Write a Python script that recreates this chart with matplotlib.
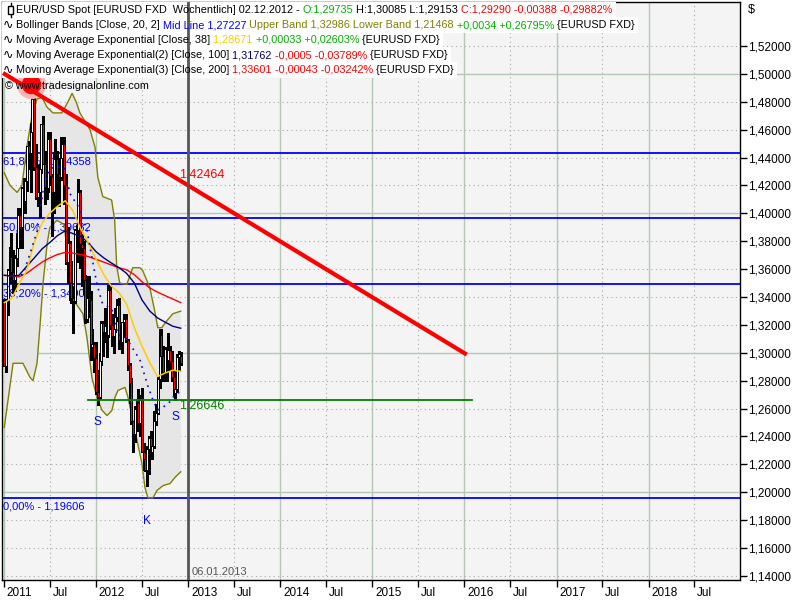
import matplotlib
matplotlib.use("Agg")
import matplotlib.pyplot as plt
import matplotlib.dates as mdates
import matplotlib.transforms as mtrans
from matplotlib.patches import Rectangle
from matplotlib.lines import Line2D
import numpy as np
import pandas as pd

plt.rcParams['font.family'] = ['Liberation Sans', 'DejaVu Sans']

# weekly EUR/USD candles (week dates as the chart shows them)
weeks = pd.date_range("2011-01-02", "2012-12-02", freq="7D")
opens = [1.3365, 1.2907, 1.3380, 1.3595, 1.3690, 1.3580, 1.3520, 1.3680, 1.3750, 1.3985,
         1.3905, 1.4180, 1.4090, 1.4230, 1.4480, 1.4430, 1.4580, 1.4820, 1.4330, 1.4120,
         1.4150, 1.4320, 1.4640, 1.4350, 1.4190, 1.4180, 1.4530, 1.4270, 1.4150, 1.4390,
         1.4390, 1.4280, 1.4260, 1.4400, 1.4500, 1.4200, 1.3650, 1.3790, 1.3500, 1.3390,
         1.3370, 1.3880, 1.3880, 1.4150, 1.3780, 1.3750, 1.3520, 1.3240, 1.3390, 1.3380,
         1.3040, 1.3060,
         1.2960, 1.2720, 1.2680, 1.2940, 1.3210, 1.3150, 1.3190, 1.3130, 1.3450, 1.3200,
         1.3120, 1.3170, 1.3260, 1.3340, 1.3090, 1.3080, 1.3220, 1.3240, 1.3090, 1.2910,
         1.2780, 1.2510, 1.2420, 1.2600, 1.2640, 1.2500, 1.2660, 1.2290, 1.2240, 1.2160,
         1.2310, 1.2390, 1.2290, 1.2330, 1.2510, 1.2570, 1.2810, 1.3130, 1.2980, 1.2860,
         1.3030, 1.2950, 1.3020, 1.2940, 1.2830, 1.2710, 1.2740, 1.2970, 1.29735]
highs = [1.3387, 1.3387, 1.3603, 1.3760, 1.3862, 1.3735, 1.3700, 1.3860, 1.4035, 1.4035,
         1.4190, 1.4250, 1.4250, 1.4485, 1.4520, 1.4650, 1.4880, 1.4940, 1.4500, 1.4345,
         1.4350, 1.4640, 1.4700, 1.4450, 1.4450, 1.4580, 1.4580, 1.4280, 1.4440, 1.4530,
         1.4450, 1.4400, 1.4550, 1.4550, 1.4550, 1.4280, 1.3900, 1.3800, 1.3660, 1.3480,
         1.3890, 1.3915, 1.4245, 1.4170, 1.3850, 1.3800, 1.3560, 1.3550, 1.3550, 1.3440,
         1.3170, 1.3080,
         1.3080, 1.2880, 1.3000, 1.3230, 1.3230, 1.3320, 1.3250, 1.3486, 1.3480, 1.3280,
         1.3180, 1.3320, 1.3385, 1.3390, 1.3210, 1.3220, 1.3280, 1.3280, 1.3100, 1.2930,
         1.2820, 1.2510, 1.2620, 1.2670, 1.2740, 1.2700, 1.2750, 1.2350, 1.2330, 1.2330,
         1.2400, 1.2440, 1.2390, 1.2580, 1.2630, 1.2830, 1.3170, 1.3170, 1.3050, 1.3040,
         1.3040, 1.3140, 1.3050, 1.3010, 1.2880, 1.2810, 1.2990, 1.3010, 1.30085]
lows = [1.2903, 1.2860, 1.3270, 1.3575, 1.3500, 1.3430, 1.3440, 1.3620, 1.3750, 1.3750,
        1.3750, 1.4050, 1.4000, 1.4160, 1.4320, 1.4155, 1.4550, 1.4310, 1.4100, 1.4050,
        1.3970, 1.4290, 1.4350, 1.4070, 1.4100, 1.4150, 1.4200, 1.3837, 1.4000, 1.4260,
        1.4050, 1.4050, 1.4240, 1.4350, 1.4070, 1.3640, 1.3500, 1.3380, 1.3360, 1.3145,
        1.3360, 1.3650, 1.3830, 1.3610, 1.3480, 1.3420, 1.3210, 1.3220, 1.3260, 1.2950,
        1.2990, 1.2860,
        1.2705, 1.2625, 1.2670, 1.2910, 1.2980, 1.3080, 1.2970, 1.3110, 1.3170, 1.3050,
        1.3000, 1.3150, 1.3230, 1.3030, 1.3030, 1.3000, 1.3110, 1.3080, 1.2880, 1.2640,
        1.2490, 1.2290, 1.2360, 1.2440, 1.2450, 1.2400, 1.2290, 1.2160, 1.2150, 1.2042,
        1.2130, 1.2240, 1.2240, 1.2320, 1.2480, 1.2560, 1.2750, 1.2930, 1.2800, 1.2800,
        1.2800, 1.2930, 1.2880, 1.2800, 1.2700, 1.2660, 1.2720, 1.2880, 1.29153]
closes = [1.2907, 1.3380, 1.3595, 1.3690, 1.3580, 1.3520, 1.3680, 1.3750, 1.3985, 1.3905,
          1.4180, 1.4090, 1.4230, 1.4480, 1.4430, 1.4580, 1.4820, 1.4330, 1.4120, 1.4150,
          1.4320, 1.4640, 1.4350, 1.4190, 1.4180, 1.4530, 1.4270, 1.4150, 1.4390, 1.4390,
          1.4280, 1.4260, 1.4400, 1.4500, 1.4200, 1.3650, 1.3790, 1.3500, 1.3390, 1.3370,
          1.3880, 1.3880, 1.4150, 1.3780, 1.3750, 1.3520, 1.3240, 1.3390, 1.3380, 1.3040,
          1.3060, 1.2960,
          1.2720, 1.2680, 1.2940, 1.3210, 1.3150, 1.3190, 1.3130, 1.3450, 1.3200, 1.3120,
          1.3170, 1.3260, 1.3340, 1.3090, 1.3080, 1.3220, 1.3240, 1.3090, 1.2910, 1.2780,
          1.2510, 1.2420, 1.2600, 1.2640, 1.2500, 1.2660, 1.2290, 1.2240, 1.2160, 1.2310,
          1.2390, 1.2290, 1.2330, 1.2510, 1.2570, 1.2810, 1.3130, 1.2980, 1.2860, 1.3030,
          1.2950, 1.3020, 1.2940, 1.2830, 1.2710, 1.2740, 1.2970, 1.2990, 1.29290]

# moving averages
ema_dates = ["2011-01-02", "2011-02-01", "2011-03-01", "2011-04-01", "2011-05-01", "2011-06-01",
             "2011-07-01", "2011-08-01", "2011-09-01", "2011-10-01", "2011-11-01", "2011-12-01",
             "2012-01-01", "2012-02-01", "2012-03-01", "2012-04-01", "2012-05-01", "2012-06-01",
             "2012-07-01", "2012-08-01", "2012-09-01", "2012-10-01", "2012-11-01", "2012-12-02"]
ema38 = [1.336, 1.339, 1.349, 1.359, 1.379, 1.393, 1.400, 1.405, 1.409, 1.402, 1.389, 1.379,
         1.367, 1.356, 1.348, 1.343, 1.335, 1.318, 1.305, 1.293, 1.283, 1.2855, 1.2875, 1.28671]
ema100 = [1.3556, 1.3550, 1.3555, 1.3620, 1.3680, 1.3745, 1.3790, 1.3840, 1.3875, 1.3855, 1.3835, 1.3790,
          1.3725, 1.3680, 1.3645, 1.3610, 1.3570, 1.3500, 1.3380, 1.3300, 1.3250, 1.3220, 1.3190, 1.31762]
ema200 = [1.3555, 1.3550, 1.3545, 1.3570, 1.3610, 1.3650, 1.3680, 1.3705, 1.3720, 1.3715, 1.3705, 1.3690,
          1.3670, 1.3650, 1.3630, 1.3610, 1.3595, 1.3560, 1.3510, 1.3465, 1.3435, 1.3410, 1.3385, 1.33601]

# bollinger bands
bb_up_dates = ["2011-01-02", "2011-01-25", "2011-02-22", "2011-03-13", "2011-04-02", "2011-04-22",
               "2011-05-12", "2011-06-01", "2011-06-21", "2011-07-14", "2011-08-19", "2011-09-12",
               "2011-09-28", "2011-10-14", "2011-10-29", "2011-12-08", "2011-12-28", "2012-01-08",
               "2012-01-28", "2012-03-03", "2012-03-15", "2012-03-23", "2012-04-04", "2012-05-02",
               "2012-05-26", "2012-06-23", "2012-07-04", "2012-08-01", "2012-08-21", "2012-09-02",
               "2012-09-18", "2012-10-08", "2012-11-01", "2012-12-02"]
bb_up = [1.429, 1.420, 1.415, 1.420, 1.448, 1.470, 1.482, 1.483, 1.476, 1.472, 1.472, 1.480,
         1.486, 1.480, 1.472, 1.460, 1.4475, 1.426, 1.412, 1.4095, 1.395, 1.362, 1.350, 1.349,
         1.361, 1.361, 1.359, 1.347, 1.330, 1.318, 1.318, 1.323, 1.328, 1.32986]
bb_lo_dates = ["2011-01-02", "2011-01-13", "2011-02-06", "2011-03-17", "2011-04-14", "2011-04-26",
               "2011-05-12", "2011-05-24", "2011-06-05", "2011-06-21", "2011-07-02", "2011-07-30",
               "2011-08-27", "2011-09-08", "2011-09-20", "2011-10-02", "2011-10-22", "2011-11-10",
               "2011-11-26", "2011-12-16", "2012-01-05", "2012-01-25", "2012-02-14", "2012-03-04",
               "2012-03-16", "2012-03-28", "2012-04-25", "2012-05-07", "2012-05-23", "2012-06-12",
               "2012-07-01", "2012-07-13", "2012-07-25", "2012-08-14", "2012-08-30", "2012-09-23",
               "2012-10-21", "2012-11-09", "2012-12-02"]
bb_lo = [1.2465, 1.261, 1.2925, 1.2925, 1.2824, 1.280, 1.2925, 1.320, 1.350, 1.378, 1.390, 1.395,
         1.392, 1.375, 1.345, 1.338, 1.333, 1.328, 1.311, 1.282, 1.268, 1.2587, 1.255, 1.2587,
         1.268, 1.273, 1.2752, 1.268, 1.2537, 1.237, 1.2207, 1.2035, 1.196, 1.196, 1.2013, 1.2048,
         1.2063, 1.2106, 1.21468]
bb_mid_dates = ["2011-01-02", "2011-02-06", "2011-03-17", "2011-04-14", "2011-05-12", "2011-06-05",
                "2011-07-02", "2011-07-30", "2011-08-27", "2011-09-20", "2011-10-22", "2011-11-26",
                "2011-12-16", "2012-01-05", "2012-01-25", "2012-03-04", "2012-03-28", "2012-05-02",
                "2012-06-23", "2012-07-25", "2012-08-14", "2012-09-02", "2012-09-23", "2012-10-21",
                "2012-11-09", "2012-12-02"]
bb_mid = [1.338, 1.355, 1.356, 1.371, 1.387, 1.416, 1.432, 1.4335, 1.433, 1.414, 1.405, 1.388,
          1.368, 1.349, 1.336, 1.331, 1.313, 1.310, 1.295, 1.276, 1.266, 1.259, 1.261, 1.265,
          1.270, 1.27227]

# drawing tools
fib_labels = ["61,80% - 1,44358", "50,00% - 1,39632", "38,20% - 1,34906", "0,00% - 1,19606"]
fib_levels = [1.44358, 1.39632, 1.34906, 1.19606]
support_level = 1.26646
support_dates = ["2011-11-29", "2016-01-31"]
trend_dates = ["2010-12-28", "2016-01-11"]
trend_prices = [1.5006, 1.2987]
trend_value_label = "1,42464"
marker_date, marker_price = "2011-04-18", 1.4925
vline_date = "2012-12-30"
vline_label = "06.01.2013"
swing_labels = ["S", "K", "S"]
swing_dates = ["2012-01-08", "2012-07-22", "2012-11-11"]
swing_prices = [1.2625, 1.2042, 1.2660]

xtick_dates = ["2011-01-01", "2011-07-01", "2012-01-01", "2012-07-01", "2013-01-01", "2013-07-01",
               "2014-01-01", "2014-07-01", "2015-01-01", "2015-07-01", "2016-01-01", "2016-07-01",
               "2017-01-01", "2017-07-01", "2018-01-01", "2018-07-01"]
xtick_labels = ["2011", "Jul", "2012", "Jul", "2013", "Jul", "2014", "Jul", "2015", "Jul",
                "2016", "Jul", "2017", "Jul", "2018", "Jul"]
price_ticks = [1.14, 1.16, 1.18, 1.20, 1.22, 1.24, 1.26, 1.28, 1.30, 1.32, 1.34, 1.36, 1.38,
               1.40, 1.42, 1.44, 1.46, 1.48, 1.50, 1.52]
price_major = [1.20, 1.30, 1.40, 1.50]


def dn(d):
    return mdates.date2num(pd.to_datetime(d))


GREEN = "#00b000"
RED = "#ff0000"
BLUE = "#0000ff"
OLIVE = "#808000"
GOLD = "#ffcc00"
NAVY = "#000080"

fig = plt.figure(figsize=(8, 6), dpi=100)
ax = fig.add_axes([2/800, 20/600, 738/800, 578/600])
ax.set_facecolor("#f4f4f4")
ax.set_xlim(dn("2010-12-24"), dn("2018-12-30"))
ax.set_ylim(1.1371, 1.5515)

# grid
for d, lab in zip(xtick_dates, xtick_labels):
    if lab == "Jul":
        ax.axvline(dn(d), color="#a8a8a8", lw=0.8, ls=(0, (1, 3)), zorder=0.5)
    else:
        ax.axvline(dn(d), color="#b4c8b4", lw=1, zorder=0.5)
for p in price_ticks:
    if p in price_major:
        ax.axhline(p, color="#b4c8b4", lw=1, zorder=0.5)
    else:
        ax.axhline(p, color="#a8a8a8", lw=0.8, ls=(0, (1, 3)), zorder=0.5)

# bollinger fill + lines
ux = dn(bb_up_dates)
lx = dn(bb_lo_dates)
ax.fill(np.concatenate([ux, lx[::-1]]), np.concatenate([bb_up, bb_lo[::-1]]),
        color="#e6e6e6", lw=0, zorder=1)
ax.plot(ux, bb_up, color=OLIVE, lw=1, zorder=2)
ax.plot(lx, bb_lo, color=OLIVE, lw=1, zorder=2)

# fib lines
for lev, lab in zip(fib_levels, fib_labels):
    ax.axhline(lev, color=BLUE, lw=1.3, zorder=1.5)
    ax.annotate(lab, (ax.get_xlim()[0], lev), xytext=(0.8, -6.5), textcoords="offset points",
                color=BLUE, fontsize=8, va="center", ha="left", zorder=1.6)

# candles
x = dn(weeks)
o = np.array(opens)
c = np.array(closes)
ax.vlines(x, lows, highs, color="black", lw=0.8, zorder=3, antialiased=False)
body_lo = np.minimum(o, c)
body_h = np.maximum(np.abs(c - o), 0.0004)
cols = np.where(c >= o, "white", "#ff0000")
ax.bar(x, body_h, bottom=body_lo, width=8, color=cols, edgecolor="black", linewidth=0.7,
       zorder=4, antialiased=False)

# indicators
ex = dn(ema_dates)
ax.plot(ex, ema200, color=RED, lw=1, zorder=5)
ax.plot(ex, ema100, color=NAVY, lw=1, zorder=5)
ax.plot(ex, ema38, color=GOLD, lw=1.1, zorder=5)
ax.plot(dn(bb_mid_dates), bb_mid, color=BLUE, lw=1.2, ls=(0, (1, 3)), zorder=5)

# support line
ax.plot(dn(support_dates), [support_level]*2, color="#008000", lw=1.3, zorder=5)
ax.annotate("1,26646", (dn(vline_date), support_level), xytext=(-6.5, -4.5), textcoords="offset points",
            color="#008000", fontsize=9, va="center", ha="left", zorder=5)

# marker at the high and trend line
ax.plot(dn(marker_date), marker_price, "o", ms=21, color="#ffb4b4", mec="none", zorder=5.5)
ax.plot(dn(marker_date), marker_price, "o", ms=14, color=RED, mec="none", zorder=5.6)
ax.plot(dn(trend_dates), trend_prices, color=RED, lw=3, zorder=7, solid_capstyle="butt")
ax.annotate(trend_value_label, (dn(vline_date), 1.42464), xytext=(-6.5, 3), textcoords="offset points",
            color=RED, fontsize=9, va="center", ha="left", zorder=5)

# swing labels
for lab, d, p in zip(swing_labels, swing_dates, swing_prices):
    off = -25 if lab == "K" else -12
    ax.annotate(lab, (dn(d), p), xytext=(0, off), textcoords="offset points",
                color=BLUE, fontsize=8.5, va="center", ha="center", zorder=5)

# time marker
ax.axvline(dn(vline_date), color="#555555", lw=2, zorder=8)
ax.annotate(vline_label, (dn(vline_date), ax.get_ylim()[0]), xytext=(2.5, 6), textcoords="offset points",
            color="#555555", fontsize=8, va="center", ha="left", zorder=8)

# axes
for s in ax.spines.values():
    s.set_color("black")
    s.set_linewidth(1)
ax.yaxis.tick_right()
ax.set_yticks(price_ticks)
ax.set_yticklabels([f"{p:.5f}".replace(".", ",") for p in price_ticks])
ax.tick_params(axis="y", direction="out", length=5, width=1, pad=1, labelsize=8.5)
ax.set_xticks(dn(xtick_dates))
ax.set_xticklabels(xtick_labels)
ax.tick_params(axis="x", direction="out", length=5, width=1, pad=0, labelsize=8.5)
shift = mtrans.ScaledTranslation(2/72, 0, fig.dpi_scale_trans)
for t in ax.get_xticklabels():
    t.set_horizontalalignment("left")
    t.set_transform(t.get_transform() + shift)

fig.text(748/800, 1 - 10/600, "$", fontsize=9, va="center", ha="left")

# header legend
renderer = fig.canvas.get_renderer()


def measure(s, size):
    t = fig.text(0, 0, s + "|", fontsize=size)
    w = t.get_window_extent(renderer).width
    t.remove()
    t = fig.text(0, 0, "|", fontsize=size)
    w -= t.get_window_extent(renderer).width
    t.remove()
    return w


legend_lines = [
    [("EUR/USD Spot [EURUSD FXD  Wöchentlich] 02.12.2012 - ", "black"), ("O:1,29735", GREEN),
     (" H:1,30085 L:1,29153 ", "black"), ("C:1,29290 -0,00388 -0,29882%", RED)],
    [("Bollinger Bands [Close, 20, 2] ", "black"), ("Mid Line 1,27227 ", BLUE),
     ("Upper Band 1,32986 Lower Band 1,21468 ", OLIVE), ("+0,0034 +0,26795%", GREEN),
     (" {EURUSD FXD}", "black")],
    [("Moving Average Exponential [Close, 38] ", "black"), ("1,28671 ", GOLD),
     ("+0,00033 +0,02603%", GREEN), (" {EURUSD FXD}", "black")],
    [("Moving Average Exponential(2) [Close, 100] ", "black"), ("1,31762 ", NAVY),
     ("-0,0005 -0,03789%", RED), (" {EURUSD FXD}", "black")],
    [("Moving Average Exponential(3) [Close, 200] ", "black"), ("1,33601 ", RED),
     ("-0,00043 -0,03242%", RED), (" {EURUSD FXD}", "black")],
]
fs = 7.8
tf = fig.transFigure
for i, parts in enumerate(legend_lines):
    yc = 10 + 15 * i
    full = "".join(p[0] for p in parts)
    w = measure(full, fs)
    ax.add_patch(Rectangle((2/800, 1 - (yc + 7.5)/600), (w + 17)/800, 15/600, transform=tf,
                           facecolor="white", edgecolor="none", zorder=6, clip_on=False))
    prefix = ""
    for txt, col in parts:
        xo = 16 + measure(prefix, fs)
        ax.text(xo/800, 1 - yc/600, txt, transform=tf, color=col, fontsize=fs,
                va="center", ha="left", zorder=10)
        prefix += txt
    if i > 0:
        ax.text(3/800, 1 - yc/600, "∿", transform=tf, fontsize=9, va="center", ha="left",
                zorder=10, family=["DejaVu Sans"])

# small candle icon on the first line
ax.add_artist(Line2D([10.5/800, 10.5/800], [1 - 3/600, 1 - 17/600], transform=tf, color="black", lw=1, zorder=10))
ax.add_patch(Rectangle((8/800, 1 - 13.5/600), 5/800, 7/600, transform=tf, facecolor="white",
                       edgecolor="black", lw=1, zorder=10.5, clip_on=False))

ax.text(5/800, 1 - 86/600, "© www.tradesignalonline.com", transform=tf, fontsize=fs,
        va="center", ha="left", zorder=10)

fig.savefig("out.png", dpi=100)
